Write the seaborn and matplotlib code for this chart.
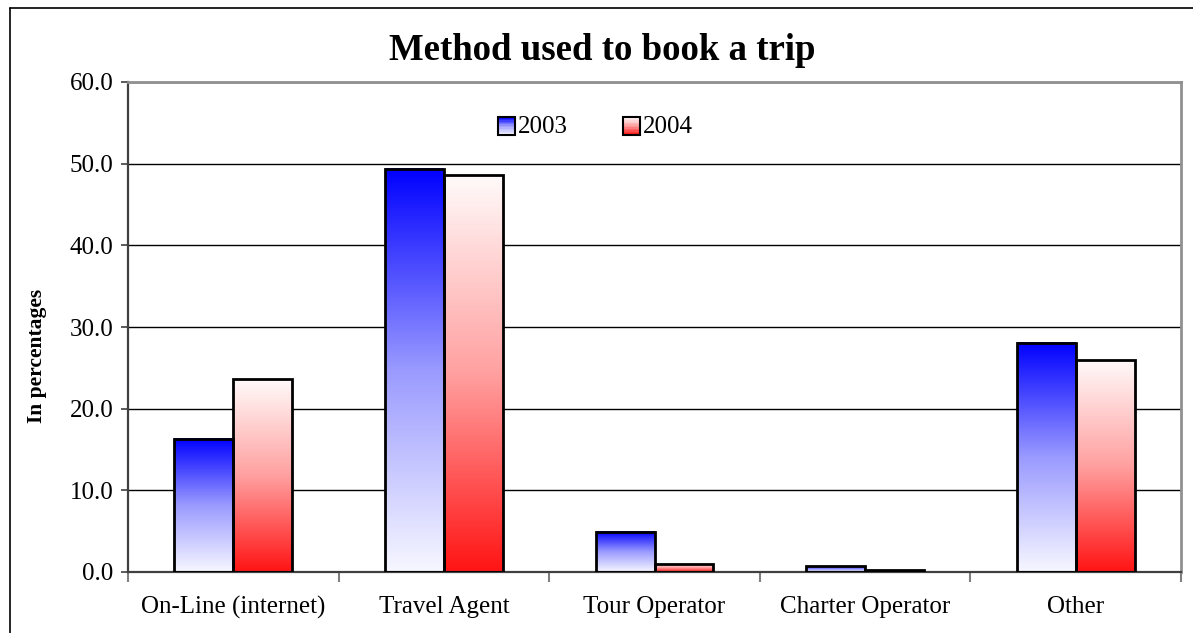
import numpy as np
import pandas as pd
import matplotlib
matplotlib.use("Agg")
import matplotlib.pyplot as plt
import seaborn as sns
from matplotlib.patches import Rectangle
from matplotlib.legend_handler import HandlerBase
from matplotlib.lines import Line2D
from matplotlib.colors import LinearSegmentedColormap

categories = ["On-Line (internet)", "Travel Agent", "Tour Operator", "Charter Operator", "Other"]
years = ["2003", "2004"]
values_2003 = [16.3, 49.4, 4.9, 0.7, 28.1]
values_2004 = [23.6, 48.6, 1.0, 0.2, 26.0]
y_ticks = [0, 10, 20, 30, 40, 50, 60]

df = pd.DataFrame({
    "Method": categories * 2,
    "Year": [years[0]] * len(categories) + [years[1]] * len(categories),
    "Percent": values_2003 + values_2004,
})

sns.set_style("white")
plt.rcParams["font.family"] = ["Liberation Serif", "DejaVu Serif"]
plt.rcParams["text.color"] = "black"
plt.rcParams["xtick.color"] = "black"
plt.rcParams["ytick.color"] = "black"
plt.rcParams["axes.labelcolor"] = "black"

# gradient colormaps (value 0 = bottom, 1 = top)
cmap_2003 = LinearSegmentedColormap.from_list("g03", ["#f7f7ff", "#9a9aff", "#0000ff"])
cmap_2004 = LinearSegmentedColormap.from_list("g04", ["#ff1414", "#ffa0a0", "#fffafa"])
cmaps = [cmap_2003, cmap_2004]

W, H = 1193, 633
fig = plt.figure(figsize=(W / 100, H / 100), dpi=100)
ax = fig.add_axes([128 / W, 1 - 572 / H, (1181 - 128) / W, (572 - 82) / H])

sns.barplot(data=df, x="Method", y="Percent", hue="Year", order=categories,
            hue_order=years, palette=["#4040ff", "#ff4040"], width=0.56,
            ax=ax, legend=False, saturation=1)

grad = np.linspace(0, 1, 256).reshape(-1, 1)
for ci, cont in enumerate(ax.containers):
    for bar in cont:
        x0, w, h = bar.get_x(), bar.get_width(), bar.get_height()
        ax.imshow(grad, cmap=cmaps[ci], extent=[x0, x0 + w, 0, h], origin="lower",
                  aspect="auto", zorder=2, interpolation="bilinear")
        bar.set_facecolor("none")
        bar.set_edgecolor("black")
        bar.set_linewidth(2)
        bar.set_zorder(3)

ax.set_xlim(-0.5, len(categories) - 0.5)
ax.set_ylim(0, 60)
ax.set_yticks(y_ticks)
ax.set_yticklabels([f"{v:.1f}" for v in y_ticks])
ax.yaxis.grid(True, color="black", linewidth=1.0, zorder=0)
ax.set_axisbelow(True)

ax.set_xlabel("")
ax.set_ylabel("")
ax.tick_params(axis="y", which="major", length=5, width=1.2, direction="out",
               color="#404040", labelsize=18, pad=5.5, left=True)
ax.tick_params(axis="x", which="major", length=0, labelsize=18, pad=17)
ax.set_xticks(np.arange(-0.5, len(categories), 1.0), minor=True)
ax.tick_params(axis="x", which="minor", length=7, width=1.5, direction="out",
               color="#808080", bottom=True)

for s in ["left", "bottom"]:
    ax.spines[s].set_color("#404040")
    ax.spines[s].set_linewidth(1.6)
for s in ["top", "right"]:
    ax.spines[s].set_color("#909090")
    ax.spines[s].set_linewidth(2)
    ax.spines[s].set_visible(True)


class GradientHandler(HandlerBase):
    def __init__(self, cmap):
        super().__init__()
        self.cmap = cmap

    def create_artists(self, legend, orig_handle, xdescent, ydescent, width,
                       height, fontsize, trans):
        side = height * 1.0
        x0 = -xdescent + (width - side)
        y0 = -ydescent + (height - side) / 2 - 1
        arts = []
        n = 12
        for i in range(n):
            r = Rectangle((x0, y0 + side * i / n), side, side / n + 0.3,
                          facecolor=self.cmap((i + 0.5) / n), edgecolor="none",
                          transform=trans)
            arts.append(r)
        arts.append(Rectangle((x0, y0), side, side, facecolor="none",
                              edgecolor="black", linewidth=1.5, transform=trans))
        return arts


h1 = Rectangle((0, 0), 1, 1)
h2 = Rectangle((0, 1), 1, 1)
fig.legend([h1, h2], years, loc="center", bbox_to_anchor=(594 / W, 1 - 127 / H),
           ncol=2, frameon=False, fontsize=18, handlelength=0.8, handletextpad=0.1,
           columnspacing=2.1,
           handler_map={h1: GradientHandler(cmap_2003), h2: GradientHandler(cmap_2004)})

fig.text(602 / W, 1 - 51 / H, "Method used to book a trip", ha="center", va="center",
         fontsize=26.5, fontweight="bold")
fig.text(37 / W, 1 - 356 / H, "In percentages", ha="center", va="center",
         rotation=90, fontsize=15.5, fontweight="bold")

# chart area border (left and top edges visible)
fig.add_artist(Line2D([10 / W, 10 / W], [0, 1 - 8 / H], transform=fig.transFigure,
                      color="black", linewidth=1.2))
fig.add_artist(Line2D([10 / W, 1], [1 - 8 / H, 1 - 8 / H], transform=fig.transFigure,
                      color="black", linewidth=1.2))

fig.savefig("out.png", dpi=100)
